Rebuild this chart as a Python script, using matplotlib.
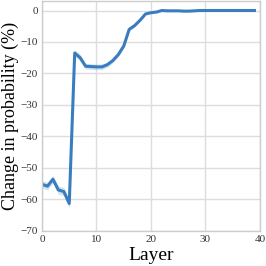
import matplotlib
matplotlib.use("Agg")
import matplotlib.pyplot as plt
import numpy as np

layers = list(range(40))
change = [-55.2, -55.8, -53.6, -57.0, -57.5, -61.3, -13.5, -15.0, -17.7, -17.8,
          -17.9, -17.9, -17.2, -15.9, -14.0, -11.3, -6.0, -4.8, -3.1, -1.1,
          -0.7, -0.5, 0.0, -0.1, -0.1, -0.1, -0.2, -0.2, -0.1, 0.0,
          0.0, 0.0, 0.0, 0.0, 0.0, 0.0, 0.0, 0.0, 0.0, 0.0]
ci = [1.2, 1.2, 1.2, 1.3, 1.3, 1.5, 1.0, 1.0, 0.9, 0.9,
      0.9, 0.9, 0.8, 0.7, 0.7, 0.6, 0.5, 0.4, 0.3, 0.2,
      0.2, 0.1, 0.1, 0.1, 0.1, 0.1, 0.1, 0.1, 0.1, 0.1,
      0.1, 0.1, 0.1, 0.1, 0.1, 0.1, 0.1, 0.1, 0.1, 0.1]

plt.rcParams['font.family'] = ['Liberation Serif', 'DejaVu Serif']

x = np.array(layers)
y = np.array(change)
e = np.array(ci)

fig = plt.figure(figsize=(2.66, 2.66), dpi=100)
ax = fig.add_axes([0.158, 0.132, 0.819, 0.864])
ax.fill_between(x, y - e, y + e, color='#1f77b4', alpha=0.2, linewidth=0)
ax.plot(x, y, color='#3a7dbf', linewidth=2.2)
ax.set_xlim(0, 40)
ax.set_ylim(-70, 3)
ax.set_xticks([0, 10, 20, 30, 40])
ax.set_yticks([0, -10, -20, -30, -40, -50, -60, -70])
ax.grid(True, color='#dddddd', linewidth=1.0)
ax.set_axisbelow(True)
for s in ax.spines.values():
    s.set_color('#cccccc')
    s.set_linewidth(1.0)
ax.tick_params(length=0, labelsize=8, colors='#333333', pad=3)
ax.set_xlabel('Layer', fontsize=14, labelpad=2)
ax.set_ylabel('Change in probability (%)', fontsize=13, labelpad=1)
fig.savefig('out.png', dpi=100)
